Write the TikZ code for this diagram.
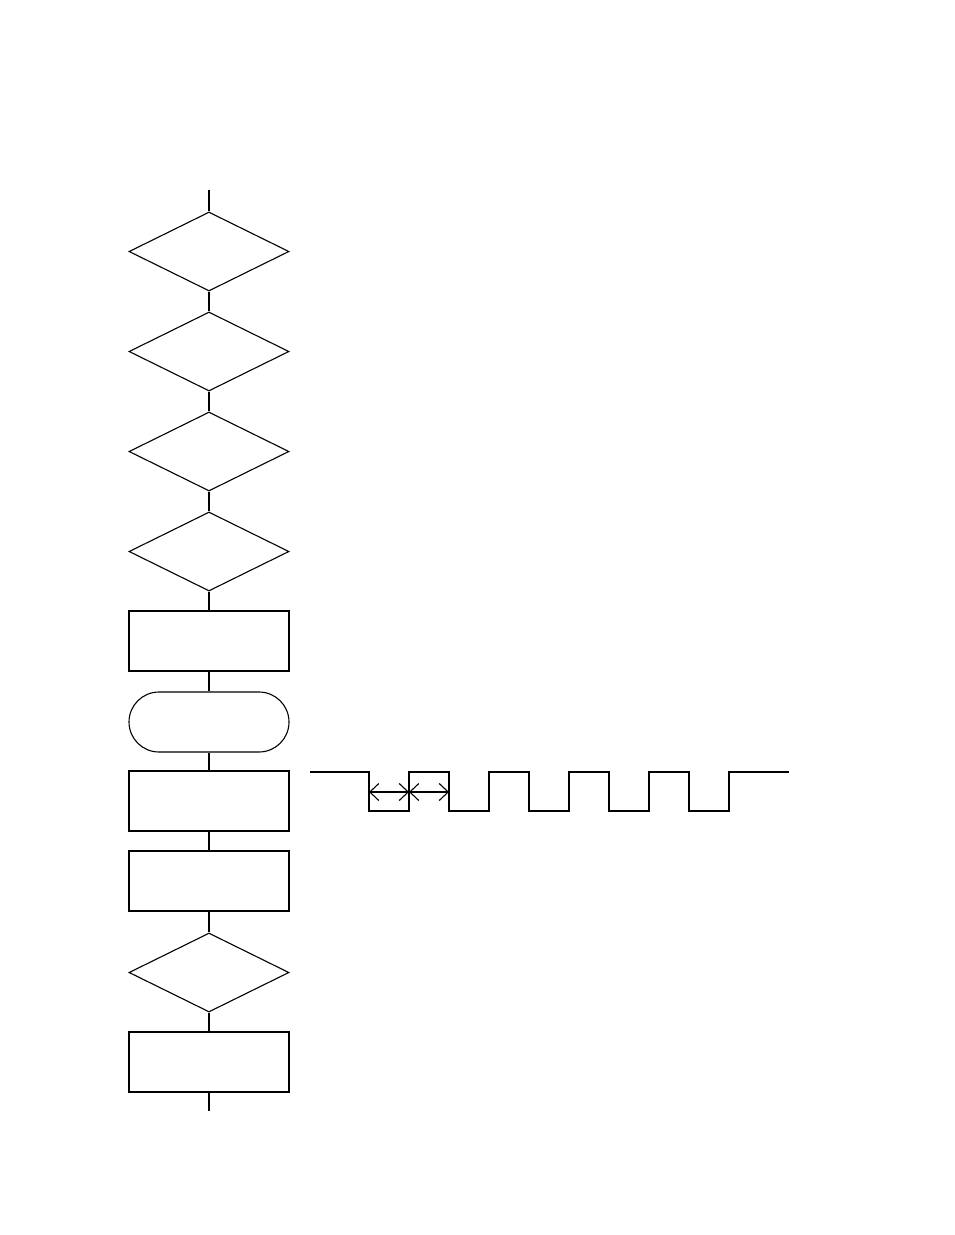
\documentclass[tikz,border=0pt]{standalone}
\usetikzlibrary{shapes.geometric,arrows.meta}
\tikzset{
    decision/.style = {draw, diamond, aspect=2, inner sep=0pt, minimum width=160pt, minimum height=79pt},
    process/.style = {draw, rectangle, inner sep=0pt, minimum width=160pt, minimum height=60pt},
    terminal/.style = {draw, rectangle, rounded corners=30pt, inner sep=0pt, minimum width=160pt, minimum height=60pt},
}
\begin{document}
\begin{tikzpicture}[x=1pt, y=-1pt, line width=1.1pt]
    \useasboundingbox (0,0) rectangle (954,1235);
    \coordinate (top) at (209,190);
    \coordinate (bottom) at (209,1111);
    \node[decision] (check1) at (209,251.5) {};
    \node[decision] (check2) at (209,351.5) {};
    \node[decision] (check3) at (209,451.5) {};
    \node[decision] (check4) at (209,551.5) {};
    \node[process] (init) at (209,641) {};
    \node[terminal] (wait) at (209,722) {};
    \node[process] (pulse) at (209,801) {};
    \node[process] (count) at (209,881) {};
    \node[decision] (check5) at (209,972.5) {};
    \node[process] (finish) at (209,1062) {};
    \draw (top) -- (check1.north);
    \draw (check1.south) -- (check2.north);
    \draw (check2.south) -- (check3.north);
    \draw (check3.south) -- (check4.north);
    \draw (check4.south) -- (init.north);
    \draw (init.south) -- (wait.north);
    \draw (wait.south) -- (pulse.north);
    \draw (pulse.south) -- (count.north);
    \draw (count.south) -- (check5.north);
    \draw (check5.south) -- (finish.north);
    \draw (finish.south) -- (bottom);
    % pulse train
    \draw (310,772) -| (369,811) -| (409,772) -| (449,811) -| (489,772) -| (529,811)
        -| (569,772) -| (609,811) -| (649,772) -| (689,811) -| (729,772) -- (789,772);
    \draw[{Straight Barb[length=9pt,width=17pt]}-{Straight Barb[length=9pt,width=17pt]}] (369,792) -- (409,792);
    \draw[{Straight Barb[length=9pt,width=17pt]}-{Straight Barb[length=9pt,width=17pt]}] (409,792) -- (449,792);
\end{tikzpicture}
\end{document}
